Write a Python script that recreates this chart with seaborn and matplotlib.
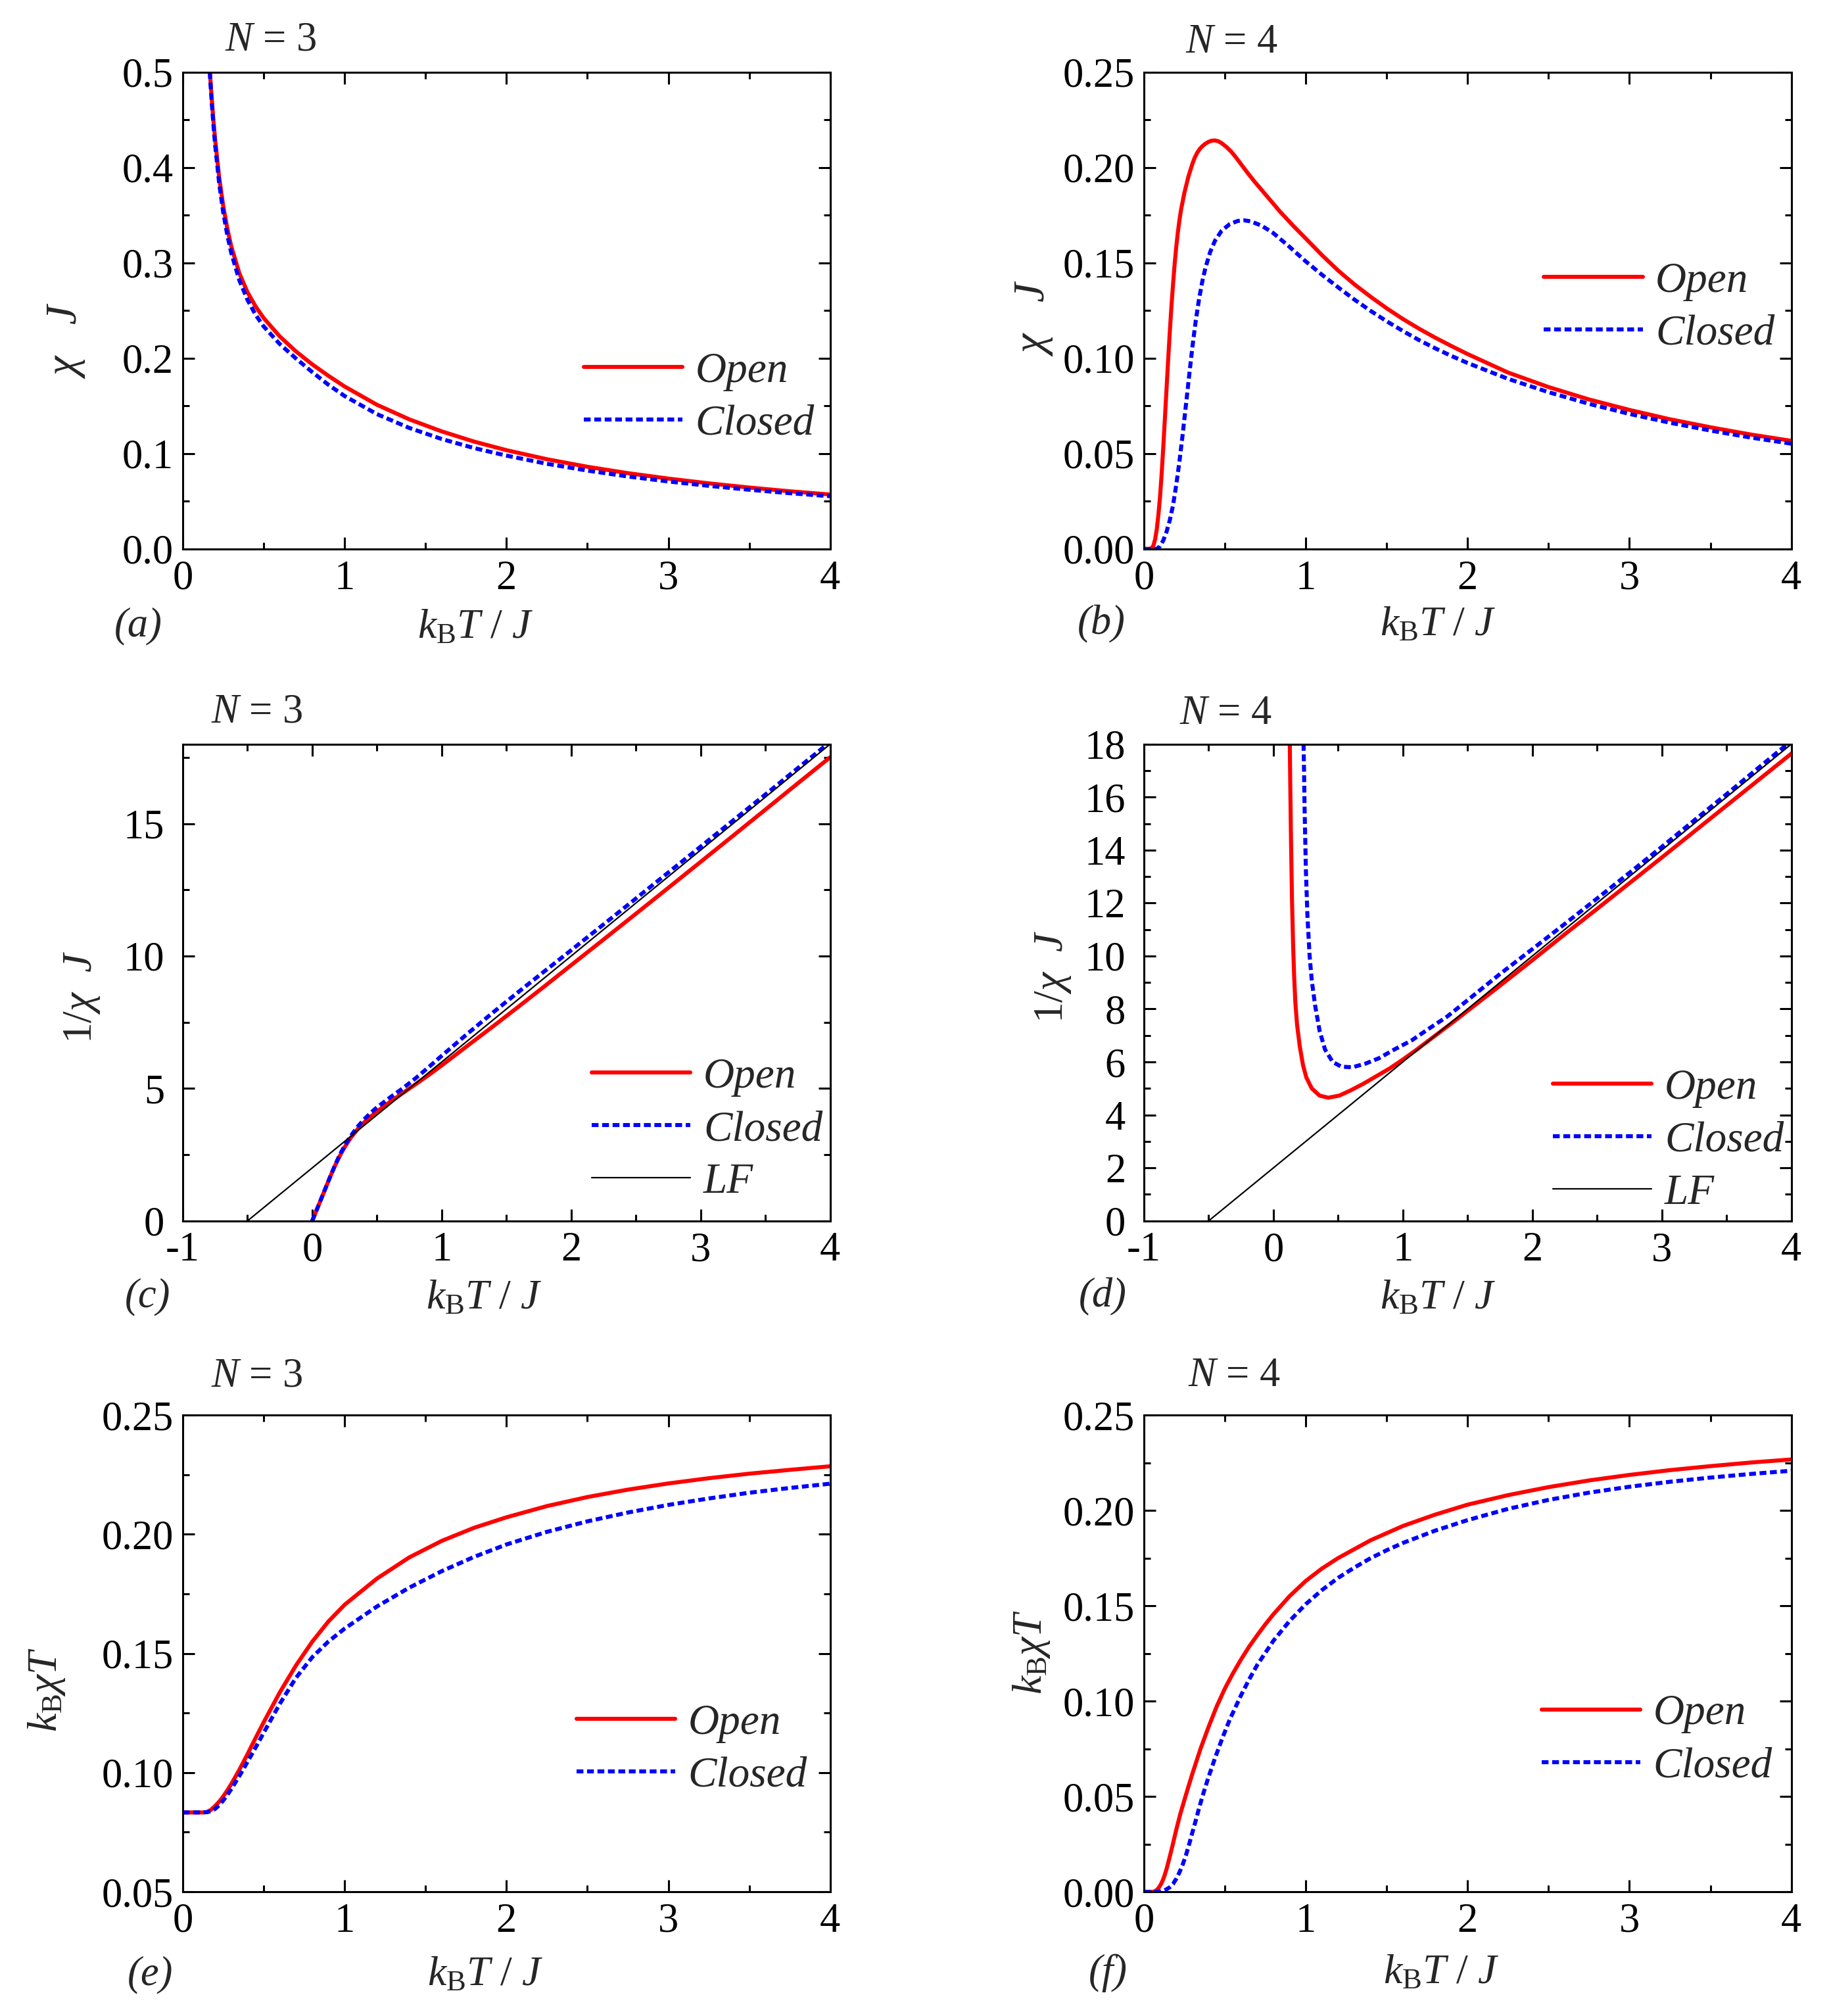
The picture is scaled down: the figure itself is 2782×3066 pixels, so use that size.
import numpy as np
import pandas as pd
import seaborn as sns
import matplotlib.pyplot as plt
from matplotlib.ticker import MultipleLocator, FormatStrFormatter

sns.set_style('ticks')
plt.rcParams['font.family'] = ['Liberation Serif', 'DejaVu Serif']
plt.rcParams['mathtext.fontset'] = 'custom'
plt.rcParams['mathtext.rm'] = 'Liberation Serif'
plt.rcParams['mathtext.it'] = 'Liberation Serif:italic'
plt.rcParams['mathtext.bf'] = 'Liberation Serif:bold'
plt.rcParams['axes.unicode_minus'] = False

# ---- panel (a): N=3, chi J ----
t_a = [0.16, 0.17, 0.18, 0.19, 0.2, 0.225, 0.25, 0.275, 0.3, 0.35, 0.4, 0.45, 0.5, 0.6, 0.7, 0.8,
       0.9, 1.0, 1.2, 1.4, 1.6, 1.8, 2.0, 2.25, 2.5, 2.75, 3.0, 3.25, 3.5, 3.75, 4.0]
chi3_open = [0.523, 0.495, 0.4706, 0.449, 0.430, 0.390, 0.360, 0.3364, 0.3173, 0.2891, 0.2693, 0.2544,
             0.2422, 0.2228, 0.2071, 0.1936, 0.1816, 0.1704, 0.1512, 0.1359, 0.1233, 0.1126, 0.1036,
             0.0941, 0.0862, 0.0795, 0.0738, 0.0688, 0.0644, 0.0605, 0.0571]
chi3_closed = [0.522, 0.492, 0.4667, 0.444, 0.424, 0.3836, 0.3532, 0.3295, 0.3103, 0.2817, 0.2613,
               0.2456, 0.2334, 0.2148, 0.1997, 0.1855, 0.1722, 0.1604, 0.1414, 0.1269, 0.1153, 0.1058,
               0.0979, 0.0893, 0.0822, 0.0760, 0.0708, 0.0662, 0.0621, 0.0585, 0.0553]

# ---- panel (b): N=4, chi J ----
t_b_open = [0.0, 0.04, 0.05, 0.06, 0.07, 0.08, 0.09, 0.10, 0.11, 0.12, 0.13, 0.14, 0.15, 0.16, 0.17,
            0.18, 0.19, 0.20, 0.21, 0.22, 0.23, 0.25, 0.275, 0.30, 0.315, 0.33, 0.345, 0.36, 0.38,
            0.40, 0.42, 0.44, 0.46, 0.48, 0.51, 0.54, 0.57, 0.60, 0.64, 0.68, 0.76, 0.84, 0.92, 1.0,
            1.1, 1.2, 1.3, 1.4, 1.5, 1.6, 1.7, 1.8, 1.9, 2.0, 2.25, 2.5, 2.75, 3.0, 3.25, 3.5, 3.75, 4.0]
chi4_open = [0.0, 0.0, 0.0006, 0.002, 0.0052, 0.0105, 0.0180, 0.0275, 0.0395, 0.0535, 0.0685, 0.0838,
             0.0990, 0.1135, 0.1268, 0.1385, 0.1492, 0.1583, 0.1660, 0.1725, 0.1780, 0.1866, 0.1952,
             0.2020, 0.2053, 0.2078, 0.2097, 0.2111, 0.2125, 0.2135, 0.2141, 0.2142, 0.2138, 0.2128,
             0.2108, 0.2083, 0.2052, 0.2018, 0.1973, 0.1930, 0.1850, 0.1770, 0.1697, 0.1628, 0.1541,
             0.1460, 0.1388, 0.1323, 0.1262, 0.1206, 0.1155, 0.1108, 0.1064, 0.1022, 0.0925, 0.0849,
             0.0784, 0.0729, 0.0680, 0.0638, 0.0600, 0.0567]
t_b_closed = [0.0, 0.08, 0.10, 0.12, 0.14, 0.16, 0.18, 0.20, 0.22, 0.24, 0.26, 0.28, 0.30, 0.32, 0.34,
              0.36, 0.38, 0.41, 0.44, 0.48, 0.53, 0.58, 0.62, 0.66, 0.73, 0.80, 0.90, 1.0, 1.1, 1.2,
              1.3, 1.4, 1.5, 1.6, 1.7, 1.8, 1.9, 2.0, 2.25, 2.5, 2.75, 3.0, 3.25, 3.5, 3.75, 4.0]
chi4_closed = [0.0, 0.0, 0.0015, 0.0045, 0.009, 0.015, 0.0228, 0.0335, 0.0460, 0.0602, 0.0755, 0.0910,
               0.1060, 0.1193, 0.1305, 0.1398, 0.1473, 0.1558, 0.1617, 0.1668, 0.1703, 0.1720, 0.1723,
               0.1718, 0.1694, 0.1656, 0.1584, 0.1508, 0.1438, 0.1372, 0.1308, 0.1249, 0.1194, 0.1143,
               0.1095, 0.1052, 0.1012, 0.0975, 0.0892, 0.0822, 0.0761, 0.0708, 0.0662, 0.0621, 0.0584,
               0.0552]

# ---- panel (c): N=3, 1/chi J ----
t_c = [0, 0.05, 0.1, 0.125, 0.15, 0.175, 0.2, 0.225, 0.25, 0.275, 0.3, 0.35, 0.4, 0.45, 0.5, 0.6,
       0.7, 0.8, 0.9, 1.0, 1.2, 1.4, 1.6, 1.8, 2.0, 2.25, 2.5, 2.75, 3.0, 3.25, 3.5, 3.75, 4.0]
inv3_open = [0, 0.600, 1.200, 1.501, 1.796, 2.073, 2.326, 2.563, 2.778, 2.973, 3.151, 3.458, 3.714,
             3.930, 4.129, 4.488, 4.828, 5.165, 5.508, 5.869, 6.615, 7.357, 8.114, 8.880, 9.657,
             10.623, 11.596, 12.574, 13.556, 14.541, 15.528, 16.520, 17.505]
inv3_closed = [0, 0.600, 1.200, 1.501, 1.799, 2.088, 2.358, 2.607, 2.831, 3.035, 3.222, 3.550, 3.828,
               4.072, 4.284, 4.655, 5.007, 5.391, 5.806, 6.234, 7.071, 7.883, 8.672, 9.449, 10.220,
               11.194, 12.171, 13.152, 14.131, 15.116, 16.099, 17.092, 18.083]

# Linear fit (LF) line, same in (c) and (d)
lf_t = [-0.5, 4.0]
lf_val = [0.0, 18.0]

# ---- panel (d): N=4, 1/chi J ----
t_d_open = [0.126, 0.131, 0.136, 0.144, 0.153, 0.161, 0.170, 0.183, 0.204, 0.229, 0.255, 0.297,
            0.357, 0.424, 0.509, 0.594, 0.696, 0.798, 0.900, 1.0, 1.1, 1.2, 1.3, 1.4, 1.5, 1.75, 2.0,
            2.25, 2.5, 2.75, 3.0, 3.25, 3.5, 3.75, 4.0]
inv4_open = [18.4, 16.3, 14.5, 12.1, 10.35, 9.18, 8.24, 7.41, 6.59, 5.88, 5.41, 5.0, 4.73, 4.65, 4.73,
             4.92, 5.18, 5.47, 5.76, 6.09, 6.44, 6.81, 7.18, 7.55, 7.93, 8.88, 9.84, 10.82, 11.78,
             12.75, 13.72, 14.70, 15.68, 16.66, 17.64]
t_d_closed = [0.232, 0.237, 0.241, 0.251, 0.263, 0.280, 0.297, 0.323, 0.357, 0.399, 0.458, 0.526,
              0.611, 0.713, 0.815, 0.934, 1.070, 1.205, 1.341, 1.469, 1.75, 2.0, 2.25, 2.5, 2.75, 3.0,
              3.25, 3.5, 3.75, 4.0]
inv4_closed = [18.4, 17.0, 15.65, 13.29, 11.53, 10.0, 9.06, 8.12, 7.18, 6.47, 6.0, 5.82, 5.80, 5.94,
               6.14, 6.47, 6.82, 7.27, 7.71, 8.21, 9.32, 10.26, 11.21, 12.17, 13.14, 14.12, 15.12,
               16.11, 17.12, 18.12]

# ---- panel (e): N=3, kB chi T ----
t_e = [0, 0.05, 0.1, 0.125, 0.15, 0.175, 0.2, 0.225, 0.25, 0.275, 0.3, 0.35, 0.4, 0.45, 0.5, 0.6,
       0.7, 0.8, 0.9, 1.0, 1.2, 1.4, 1.6, 1.8, 2.0, 2.25, 2.5, 2.75, 3.0, 3.25, 3.5, 3.75, 4.0]
chit3_open = [0.0833, 0.0833, 0.0833, 0.0833, 0.0835, 0.0844, 0.0860, 0.0878, 0.0900, 0.0925, 0.0952,
              0.1012, 0.1077, 0.1145, 0.1211, 0.1337, 0.1450, 0.1549, 0.1634, 0.1704, 0.1814, 0.1903,
              0.1972, 0.2027, 0.2071, 0.2118, 0.2156, 0.2187, 0.2213, 0.2235, 0.2254, 0.2270, 0.2285]
chit3_closed = [0.0833, 0.0833, 0.0833, 0.0833, 0.0834, 0.0838, 0.0848, 0.0863, 0.0883, 0.0906, 0.0931,
                0.0986, 0.1045, 0.1105, 0.1167, 0.1289, 0.1398, 0.1484, 0.1550, 0.1604, 0.1697, 0.1776,
                0.1845, 0.1905, 0.1957, 0.2010, 0.2054, 0.2091, 0.2123, 0.2150, 0.2174, 0.2194, 0.2212]

# ---- panel (f): N=4, kB chi T ----
t_f_open = [0.0, 0.05, 0.06, 0.07, 0.08, 0.09, 0.10, 0.11, 0.12, 0.13, 0.14, 0.15, 0.16, 0.17, 0.18,
            0.20, 0.225, 0.25, 0.275, 0.30, 0.35, 0.40, 0.45, 0.50, 0.55, 0.60, 0.65, 0.70, 0.75, 0.80,
            0.90, 1.0, 1.1, 1.2, 1.4, 1.6, 1.8, 2.0, 2.25, 2.5, 2.75, 3.0, 3.25, 3.5, 3.75, 4.0]
chit4_open = [0.0, 0.0, 0.0001, 0.0004, 0.0010, 0.0019, 0.0032, 0.0047, 0.0067, 0.0091, 0.0119, 0.0151,
              0.0184, 0.0218, 0.0253, 0.0325, 0.0408, 0.0480, 0.0551, 0.0620, 0.0750, 0.0865, 0.0972,
              0.1065, 0.1145, 0.1218, 0.1285, 0.1345, 0.1402, 0.1455, 0.1550, 0.1630, 0.1695, 0.1750,
              0.1843, 0.1918, 0.1978, 0.2030, 0.2080, 0.2122, 0.2157, 0.2186, 0.2211, 0.2232, 0.2251,
              0.2267]
t_f_closed = [0.0, 0.08, 0.10, 0.12, 0.14, 0.16, 0.18, 0.20, 0.22, 0.24, 0.26, 0.28, 0.30, 0.32, 0.34,
              0.36, 0.38, 0.40, 0.44, 0.48, 0.53, 0.60, 0.65, 0.70, 0.80, 0.90, 1.0, 1.1, 1.2, 1.3,
              1.4, 1.5, 1.6, 1.8, 2.0, 2.25, 2.5, 2.75, 3.0, 3.25, 3.5, 3.75, 4.0]
chit4_closed = [0.0, 0.0, 0.0002, 0.0006, 0.0013, 0.0024, 0.0041, 0.0068, 0.0102, 0.0143, 0.0192,
                0.0250, 0.0312, 0.0372, 0.0435, 0.0495, 0.0550, 0.0603, 0.0702, 0.0795, 0.0902, 0.1030,
                0.1113, 0.1189, 0.1316, 0.1420, 0.1508, 0.1582, 0.1646, 0.1700, 0.1749, 0.1791, 0.1829,
                0.1894, 0.1949, 0.2008, 0.2055, 0.2093, 0.2124, 0.2150, 0.2172, 0.2191, 0.2208]

RED = '#FF0000'
BLUE = '#0000FF'
LW = 2.2
DASH = (0, (1.7, 0.9))
TICK_FS = 22.5
LAB_FS = 23
LEG_FS = 23.5

fig = plt.figure(figsize=(13.91, 15.33), dpi=200)

# axes rectangles in figure fraction
W = 0.3540
H = 0.2365
left_col = [0.0999, 0.6254]
bottoms = [0.7277, 0.3944, 0.0616]


def setup(ax, xlim, ylim, xmaj, ymaj, ymin, yfmt, ypad=5):
    ax.set_xlim(xlim)
    ax.set_ylim(ylim)
    ax.xaxis.set_major_locator(MultipleLocator(xmaj))
    ax.xaxis.set_minor_locator(MultipleLocator(0.5))
    ax.yaxis.set_major_locator(MultipleLocator(ymaj))
    ax.yaxis.set_minor_locator(MultipleLocator(ymin))
    ax.xaxis.set_major_formatter(FormatStrFormatter('%d'))
    ax.yaxis.set_major_formatter(FormatStrFormatter(yfmt))
    ax.tick_params(which='both', direction='in', top=True, right=True, width=1.1,
                   labelsize=TICK_FS, colors='black')
    ax.tick_params(which='major', length=6.5)
    ax.tick_params(which='minor', length=3.5)
    ax.tick_params(axis='x', pad=6)
    ax.tick_params(axis='y', pad=ypad)
    for s in ax.spines.values():
        s.set_linewidth(1.1)
        s.set_color('black')
    ax.set_xlabel('')
    ax.set_ylabel('')
    ax.grid(False)


def decorate(ax, title, tpos, letter, lpos, ylab, ypos, xpos, yfs=LAB_FS):
    ax.text(tpos[0], tpos[1], title, transform=ax.transAxes, ha='center', va='center',
            fontsize=TICK_FS)
    ax.text(lpos[0], lpos[1], letter, transform=ax.transAxes, ha='center', va='center',
            fontsize=TICK_FS, fontstyle='italic')
    ax.text(ypos[0], ypos[1], ylab, transform=ax.transAxes, ha='center', va='center',
            rotation=90, fontsize=yfs)
    ax.text(xpos[0], xpos[1], r'$k_{\mathrm{B}}T\ /\ J$', transform=ax.transAxes,
            ha='center', va='center', fontsize=LAB_FS)


def add_legend(ax, anchor):
    ax.legend(loc='center left', bbox_to_anchor=anchor, frameon=False, handlelength=2.3,
              handletextpad=0.3, labelspacing=0.31, borderpad=0, borderaxespad=0,
              prop={'family': 'Liberation Serif', 'style': 'italic', 'size': LEG_FS})


def draw_pair(ax, x1, y1, x2, y2):
    sns.lineplot(x=x1, y=y1, ax=ax, color=RED, lw=LW, label='Open', estimator=None, sort=False)
    sns.lineplot(x=x2, y=y2, ax=ax, color=BLUE, lw=LW, ls=DASH, label='Closed',
                 estimator=None, sort=False)


CHI_J = r'$\chi\ \ \ J$'
INV_CHI_J = r'$1/\chi\ \ J$'
KCHIT = r'$k_{\mathrm{B}}\chi T$'

# (a)
ax = fig.add_axes([left_col[0], bottoms[0], W, H])
draw_pair(ax, t_a, chi3_open, t_a, chi3_closed)
setup(ax, (0, 4), (0, 0.5), 1, 0.1, 0.05, '%.1f')
add_legend(ax, (0.619, 0.317))
decorate(ax, r'$N$ = 3', (0.136, 1.066), '(a)', (-0.069, -0.162), CHI_J,
         (-0.18, 0.437), (0.452, -0.166), yfs=24)

# (b)
ax = fig.add_axes([left_col[1], bottoms[0], W, H])
draw_pair(ax, t_b_open, chi4_open, t_b_closed, chi4_closed)
setup(ax, (0, 4), (0, 0.25), 1, 0.05, 0.025, '%.2f')
add_legend(ax, (0.618, 0.506))
decorate(ax, r'$N$ = 4', (0.136, 1.062), '(b)', (-0.066, -0.158), CHI_J,
         (-0.169, 0.485), (0.454, -0.16), yfs=24)

# (c)
ax = fig.add_axes([left_col[0], bottoms[1], W, H])
draw_pair(ax, t_c, inv3_open, t_c, inv3_closed)
sns.lineplot(x=lf_t, y=lf_val, ax=ax, color='black', lw=0.8, label='LF', estimator=None, sort=False)
setup(ax, (-1, 4), (0, 18), 1, 5, 2.5, '%d', ypad=10)
add_legend(ax, (0.632, 0.191))
decorate(ax, r'$N$ = 3', (0.115, 1.066), '(c)', (-0.054, -0.16), INV_CHI_J,
         (-0.155, 0.47), (0.465, -0.163))

# (d)
ax = fig.add_axes([left_col[1], bottoms[1], W, H])
draw_pair(ax, t_d_open, inv4_open, t_d_closed, inv4_closed)
sns.lineplot(x=lf_t, y=lf_val, ax=ax, color='black', lw=0.8, label='LF', estimator=None, sort=False)
setup(ax, (-1, 4), (0, 18), 1, 2, 1, '%d', ypad=10)
add_legend(ax, (0.632, 0.168))
decorate(ax, r'$N$ = 4', (0.127, 1.063), '(d)', (-0.064, -0.16), INV_CHI_J,
         (-0.14, 0.512), (0.454, -0.163))

# (e)
ax = fig.add_axes([left_col[0], bottoms[2], W, H])
draw_pair(ax, t_e, chit3_open, t_e, chit3_closed)
setup(ax, (0, 4), (0.05, 0.25), 1, 0.05, 0.025, '%.2f')
add_legend(ax, (0.608, 0.298))
decorate(ax, r'$N$ = 3', (0.115, 1.081), '(e)', (-0.05, -0.174), KCHIT,
         (-0.21, 0.424), (0.467, -0.176))

# (f)
ax = fig.add_axes([left_col[1], bottoms[2], W, H])
draw_pair(ax, t_f_open, chit4_open, t_f_closed, chit4_closed)
setup(ax, (0, 4), (0, 0.25), 1, 0.05, 0.025, '%.2f')
add_legend(ax, (0.614, 0.318))
decorate(ax, r'$N$ = 4', (0.14, 1.081), '(f)', (-0.055, -0.17), KCHIT,
         (-0.174, 0.503), (0.459, -0.171))

fig.savefig('out.png', dpi=200, facecolor='white')
